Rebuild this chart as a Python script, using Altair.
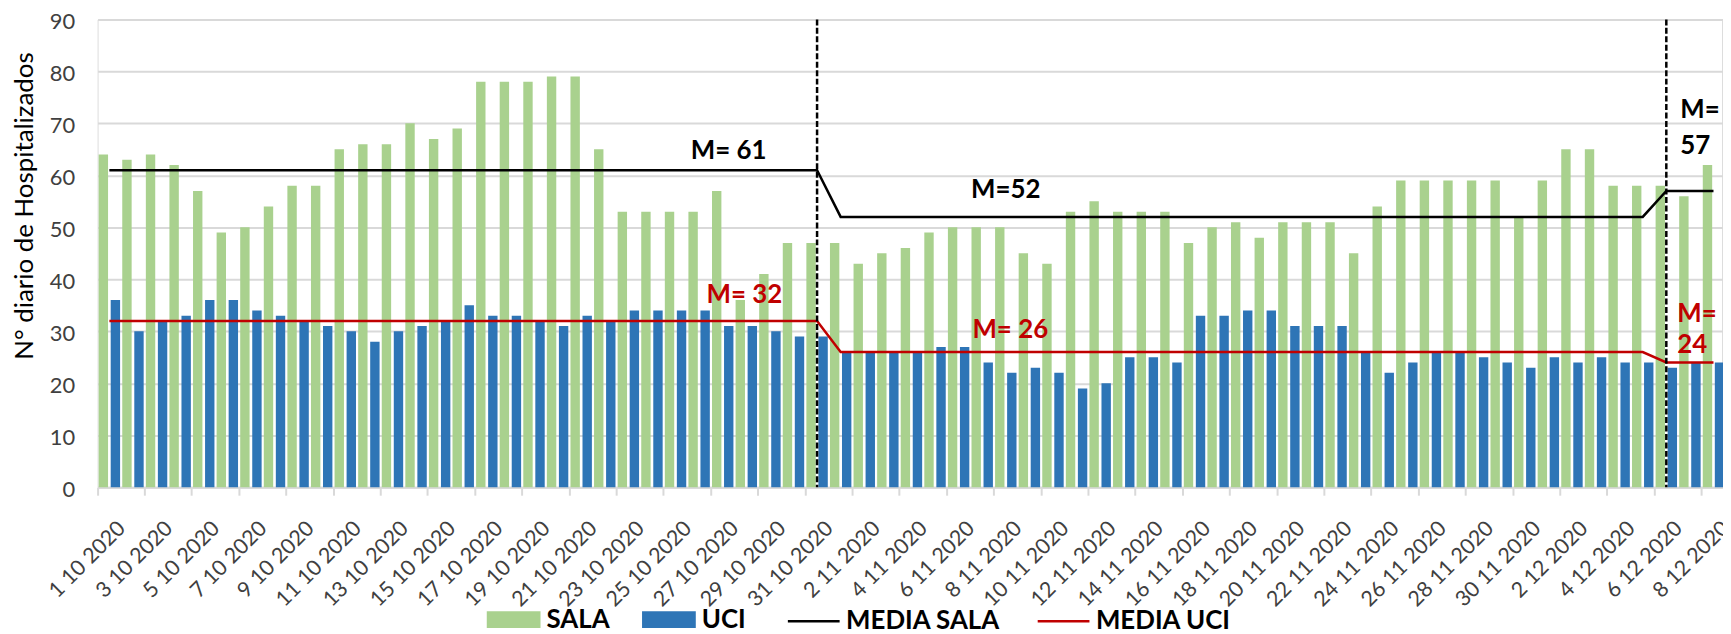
import altair as alt
import pandas as pd

# ---------------- data ----------------
fechas = ([f"{d} 10 2020" for d in range(1, 32)] +
          [f"{d} 11 2020" for d in range(1, 31)] +
          [f"{d} 12 2020" for d in range(1, 9)])

sala = [64, 63, 64, 62, 57, 49, 50, 54, 58, 58,
        65, 66, 66, 70, 67, 69, 78, 78, 78, 79,
        79, 65, 53, 53, 53, 53, 57, 36, 41, 47,
        47,
        47, 43, 45, 46, 49, 50, 50, 50, 45, 43,
        53, 55, 53, 53, 53, 47, 50, 51, 48, 51,
        51, 51, 45, 54, 59, 59, 59, 59, 59, 52,
        59, 65, 65, 58, 58, 58, 56, 62]

uci = [36, 30, 32, 33, 36, 36, 34, 33, 32, 31,
       30, 28, 30, 31, 32, 35, 33, 33, 32, 31,
       33, 32, 34, 34, 34, 34, 31, 31, 30, 29,
       29,
       26, 26, 26, 26, 27, 27, 24, 22, 23, 22,
       19, 20, 25, 25, 24, 33, 33, 34, 34, 31,
       31, 31, 26, 22, 24, 26, 26, 25, 24, 23,
       25, 24, 25, 24, 24, 23, 24, 24]

media_sala = [61] * 31 + [52] * 35 + [57] * 3
media_uci = [32] * 31 + [26] * 35 + [24] * 3

cortes = ["31 10 2020", "6 12 2020"]

series_barras = ["SALA", "UCI"]
series_lineas = ["MEDIA SALA", "MEDIA UCI"]

# annotations: (text, anchor date, value)
anotaciones = [
    ("M= 61", "27 10 2020", 64.7),
    ("M=52", "8 11 2020", 57.1),
    ("M= 32", "28 10 2020", 37.0),
    ("M= 26", "8 11 2020", 30.3),
    ("M=", "6 12 2020", 72.6),
    ("57", "6 12 2020", 65.7),
    ("M=", "6 12 2020", 33.3),
    ("24", "6 12 2020", 27.3),
]

# ---------------- styles ----------------
VERDE = "#A9D18E"
AZUL = "#2E75B6"
NEGRO = "#000000"
ROJO = "#C00000"
GRIS = "#D9D9D9"
FONT = "Lato"

W, H = 1632, 470
STEP = 23.7
ANCHO_X = STEP * len(fechas)

# per-annotation styling: colour, align, dx
estilo_anot = [
    (NEGRO, "center", 6),
    (NEGRO, "center", 0),
    (ROJO, "center", -2),
    (ROJO, "center", 4.5),
    (NEGRO, "left", 14),
    (NEGRO, "left", 14),
    (ROJO, "left", 11),
    (ROJO, "left", 11),
]

df_bars = pd.DataFrame({
    "fecha": fechas * 2,
    "serie": [series_barras[0]] * len(fechas) + [series_barras[1]] * len(fechas),
    "valor": sala + uci,
})
df_lines = pd.DataFrame({
    "fecha": fechas * 2,
    "serie": [series_lineas[0]] * len(fechas) + [series_lineas[1]] * len(fechas),
    "valor": media_sala + media_uci,
})
df_cortes = pd.DataFrame({"fecha": cortes})

x_axis = alt.Axis(
    values=fechas[::2], bandPosition=0, labelAngle=-45, labelAlign="right",
    labelBaseline="middle", labelOffset=13, labelPadding=30,
    tickSize=8, tickColor=GRIS, tickWidth=2, domainColor=GRIS, domainWidth=2,
    labelFontSize=21.5, labelColor="#404040", labelFont=FONT, title=None, grid=False,
    labelOverlap=False,
)
x_enc = alt.X("fecha:N", sort=fechas,
              scale=alt.Scale(domain=fechas, range=[0, ANCHO_X],
                              paddingInner=0, paddingOuter=0),
              axis=x_axis)

y_axis = alt.Axis(
    values=list(range(0, 91, 10)), grid=True, gridColor=GRIS, gridWidth=2,
    domain=False, ticks=False, labelFontSize=22, labelColor="#404040",
    labelFont=FONT, labelPadding=23, labelOffset=2,
    title="N° diario de Hospitalizados",
    titleFontSize=26, titleFontWeight="normal", titleColor="#000000",
    titleFont=FONT, titleX=-73, titleY=187, titleAngle=270,
    titleBaseline="middle", titleAlign="center",
)
y_enc = alt.Y("valor:Q", scale=alt.Scale(domain=[0, 90], nice=False), axis=y_axis)

bars = alt.Chart(df_bars).mark_bar().encode(
    x=x_enc,
    xOffset=alt.XOffset("serie:N", sort=series_barras,
                        scale=alt.Scale(domain=series_barras, paddingInner=0.22,
                                        paddingOuter=0.09)),
    y=y_enc,
    color=alt.Color("serie:N",
                    scale=alt.Scale(domain=series_barras, range=[VERDE, AZUL]),
                    legend=alt.Legend(
                        orient="none", legendX=391, legendY=576, direction="horizontal",
                        title=None, symbolType="M-1,-0.31H1V0.31H-1Z", symbolSize=2916,
                        symbolStrokeWidth=0, symbolOpacity=1, labelFontSize=26, labelFont=FONT,
                        labelFontWeight="bold", labelColor="#000000", labelOffset=6,
                        columnPadding=32, padding=0)),
)

lines = alt.Chart(df_lines).mark_line(strokeWidth=2.5).encode(
    x=x_enc,
    y=y_enc,
    stroke=alt.Stroke("serie:N",
                      scale=alt.Scale(domain=series_lineas, range=[NEGRO, ROJO]),
                      legend=alt.Legend(
                          orient="none", legendX=692, legendY=577, direction="horizontal",
                          title=None, symbolType="stroke", symbolSize=2704,
                          symbolStrokeWidth=2.5, labelFontSize=26, labelFont=FONT,
                          labelFontWeight="bold", labelColor="#000000", labelOffset=5,
                          columnPadding=32, padding=0)),
)

rules = alt.Chart(df_cortes).mark_rule(color=NEGRO, strokeWidth=2.5, strokeDash=[6, 2.5]).encode(
    x=x_enc,
)

capas_texto = []
for (txt, fch, val), (col, alin, dx) in zip(anotaciones, estilo_anot):
    d = pd.DataFrame({"texto": [txt], "fecha": [fch], "valor": [val]})
    capas_texto.append(
        alt.Chart(d).mark_text(
            font=FONT, fontSize=26, fontWeight="bold", color=col, align=alin,
            baseline="middle", dx=dx,
        ).encode(x=x_enc, y=y_enc, text="texto:N")
    )

chart = alt.layer(bars, lines, rules, *capas_texto).properties(
    width=W, height=H,
    padding={"left": 90, "top": 10, "right": 1, "bottom": 146},
    autosize=alt.AutoSizeParams(type="none"),
).configure_view(stroke=None).configure(font=FONT)

chart.save("out.html", embed_options={"renderer": "svg", "actions": False})
